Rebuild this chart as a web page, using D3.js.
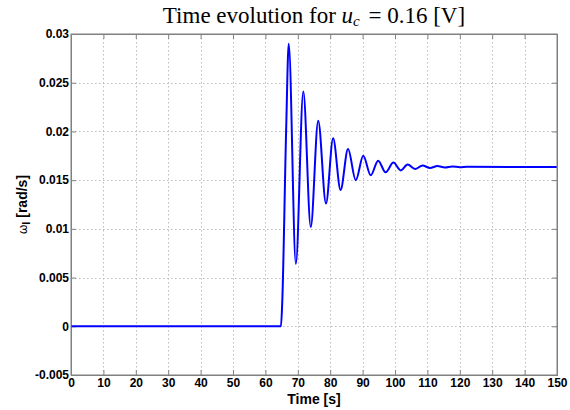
<!DOCTYPE html>
<html>
<head>
<meta charset="utf-8">
<script src="https://cdn.jsdelivr.net/npm/d3@7"></script>
<style>
  body { margin: 0; background: #fff; }
  .tick text { font-family: "Liberation Sans Narrow", "Liberation Sans", Arial, sans-serif; font-weight: bold; font-size: 12px; fill: #000; }
</style>
</head>
<body>
<script>
// data (time in s, omega in rad/s)
const timeVals = [0, 64.8, 65.2, 66.4, 67.2, 69.4, 71.7, 74.0, 76.3, 78.7, 80.9, 83.2, 85.5, 87.9,
  90.2, 92.5, 94.8, 97.1, 99.5, 101.8, 103.9, 106.2, 108.5, 110.8, 113.1, 115.4, 117.7, 120.0, 122.3, 150];
const omegaVals = [0, 0, 0.0025, 0.0201, 0.0290, 0.0064, 0.0241, 0.0102, 0.0211, 0.0126, 0.0193, 0.0140,
  0.0182, 0.0150, 0.0175, 0.0155, 0.0170, 0.0158, 0.0168, 0.0160, 0.0166, 0.01615, 0.0165, 0.01625,
  0.01645, 0.0163, 0.0164, 0.01633, 0.01637, 0.01635];
const xTicks = d3.range(0, 151, 10);
const yTicks = [-0.005, 0, 0.005, 0.01, 0.015, 0.02, 0.025, 0.03];

const width = 570, height = 410;
const mLeft = 71, mRight = 557, mTop = 34, mBottom = 375;

let data = timeVals.map((t, i) => ({ t: t, w: omegaVals[i] }));

let svg = d3.select("body").append("svg")
    .attr("width", width)
    .attr("height", height)

let xScale = d3.scaleLinear().domain([0, 150]).range([mLeft, mRight])
let yScale = d3.scaleLinear().domain([-0.005, 0.03]).range([mBottom, mTop])

// grid
svg.append("g").selectAll("line")
    .data(xTicks.slice(1, -1)).enter()
    .append("line")
    .attr("x1", d => Math.round(xScale(d)) + 0.5).attr("x2", d => Math.round(xScale(d)) + 0.5)
    .attr("y1", mTop).attr("y2", mBottom)
    .attr("stroke", "#bdbdbd").attr("stroke-dasharray", "1.5,2.5")
svg.append("g").selectAll("line")
    .data(yTicks.slice(1, -1)).enter()
    .append("line")
    .attr("y1", d => Math.round(yScale(d)) + 0.5).attr("y2", d => Math.round(yScale(d)) + 0.5)
    .attr("x1", mLeft).attr("x2", mRight)
    .attr("stroke", "#bdbdbd").attr("stroke-dasharray", "1.5,2.5")

// axes
svg.append("g")
    .attr("transform", `translate(0, ${mBottom})`)
    .call(d3.axisBottom(xScale).tickValues(xTicks).tickSize(-5).tickPadding(3).tickFormat(d3.format("d")))
svg.append("g")
    .attr("transform", `translate(${mLeft}, 0)`)
    .call(d3.axisLeft(yScale).tickValues(yTicks).tickSize(-5).tickPadding(2).tickFormat(d => d === 0 ? "0" : String(+d.toFixed(3))))
svg.append("g")
    .attr("transform", `translate(0, ${mTop})`)
    .call(d3.axisTop(xScale).tickValues(xTicks).tickSize(-5).tickFormat(""))
svg.append("g")
    .attr("transform", `translate(${mRight}, 0)`)
    .call(d3.axisRight(yScale).tickValues(yTicks).tickSize(-5).tickFormat(""))
svg.selectAll(".domain, .tick line").attr("stroke", "#808080")

// line
let line = d3.line()
    .x(d => xScale(d.t))
    .y(d => yScale(d.w))
    .curve(d3.curveMonotoneX)
svg.append("path")
    .datum(data)
    .attr("fill", "none")
    .attr("stroke", "#0000ff")
    .attr("stroke-width", 2)
    .attr("d", line)

// frame on top
svg.append("rect")
    .attr("x", mLeft).attr("y", mTop)
    .attr("width", mRight - mLeft).attr("height", mBottom - mTop)
    .attr("fill", "none").attr("stroke", "#808080")

// labels
svg.append("text")
    .attr("x", (mLeft + mRight) / 2).attr("y", 404)
    .attr("text-anchor", "middle")
    .style("font-family", "Liberation Sans, Arial, sans-serif")
    .style("font-weight", "bold").style("font-size", "14px")
    .text("Time [s]")

let ylab = svg.append("text")
    .attr("transform", `translate(27, ${(mTop + mBottom) / 2}) rotate(-90)`)
    .attr("text-anchor", "middle")
    .style("font-family", "Liberation Sans, Arial, sans-serif")
    .style("font-weight", "bold").style("font-size", "14px")
ylab.append("tspan").style("font-weight", "normal").style("font-size", "12px").text("ω")
ylab.append("tspan").attr("dy", 3).style("font-size", "11px").text("l")
ylab.append("tspan").attr("dy", -3).text(" [rad/s]")

let title = svg.append("text")
    .attr("x", (mLeft + mRight) / 2).attr("y", 23)
    .attr("text-anchor", "middle")
    .style("font-family", "Liberation Serif, Times New Roman, serif")
    .style("font-size", "23px")
    .attr("xml:space", "preserve")
title.append("tspan").text("Time evolution for ")
title.append("tspan").style("font-style", "italic").text("u")
title.append("tspan").attr("dy", 3).style("font-style", "italic").style("font-size", "15px").text("c")
title.append("tspan").attr("dy", -3).attr("dx", 3).text(" = 0.16 [V]")
</script>
</body>
</html>
